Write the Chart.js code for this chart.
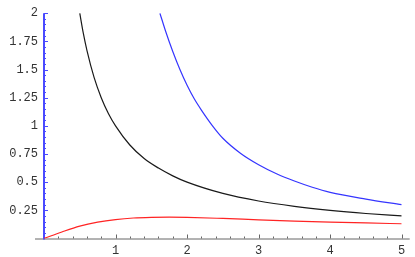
<!DOCTYPE html>
<html>
<head>
<meta charset="utf-8">
<script src="https://cdn.jsdelivr.net/npm/chart.js@4/dist/chart.umd.min.js"></script>
<style>
  html, body { margin: 0; padding: 0; background: #fff; }
  #wrap { width: 415px; height: 257px; }
</style>
</head>
<body>
<div id="wrap"><canvas id="plot" width="415" height="257"></canvas></div>
<script>
// values
var xBlack = [0.5, 0.55, 0.6, 0.7, 0.8, 0.9, 1, 1.2, 1.4, 1.6, 1.8, 2, 2.5, 3, 3.5, 4, 4.5, 5];
var yBlack = [2, 1.82, 1.67, 1.43, 1.25, 1.11, 1, 0.83, 0.71, 0.625, 0.556, 0.5, 0.4, 0.333, 0.286, 0.25, 0.222, 0.2];

var xBlue = [1.62, 1.7, 1.8, 1.9, 2, 2.1, 2.2, 2.35, 2.5, 2.75, 3, 3.25, 3.5, 3.75, 4, 4.5, 5];
var yBlue = [2, 1.84, 1.66, 1.5, 1.36, 1.24, 1.14, 1.005, 0.89, 0.755, 0.655, 0.575, 0.51, 0.455, 0.41, 0.35, 0.3];

var xRed = [0, 0.25, 0.5, 0.75, 1, 1.25, 1.5, 1.75, 2, 2.5, 3, 3.5, 4, 4.5, 5];
var yRed = [0, 0.058, 0.11, 0.145, 0.168, 0.182, 0.188, 0.19, 0.188, 0.178, 0.166, 0.155, 0.146, 0.138, 0.131];

var xTicks = [1, 2, 3, 4, 5];
var yTicks = [0.25, 0.5, 0.75, 1, 1.25, 1.5, 1.75, 2];

function pts(xs, ys) {
    return xs.map(function (x, i) { return { x: x, y: ys[i] }; });
}

function curve(xs, ys, color) {
    return {
        data: pts(xs, ys),
        borderColor: color,
        borderWidth: 1.2,
        pointRadius: 0,
        fill: false,
        cubicInterpolationMode: 'monotone'
    };
}

// Mathematica style axes crossing at the origin
var axesPlugin = {
    id: 'axes',
    beforeDatasetsDraw: function (chart) {
        var ctx = chart.ctx;
        var sx = chart.scales.x, sy = chart.scales.y;
        var x0 = sx.getPixelForValue(0), y0 = sy.getPixelForValue(0);
        ctx.save();

        // x axis
        ctx.strokeStyle = '#666';
        ctx.lineWidth = 1;
        ctx.beginPath();
        ctx.moveTo(x0 - 9, y0 + 0.5);
        ctx.lineTo(sx.getPixelForValue(5) + 8, y0 + 0.5);
        ctx.stroke();
        for (var i = 1; i <= 26; i++) {
            var v = i * 0.2;
            if (v > 5.01) break;
            var px = Math.round(sx.getPixelForValue(v)) + 0.5;
            var major = Math.abs(v - Math.round(v)) < 0.001;
            ctx.beginPath();
            ctx.moveTo(px, y0);
            ctx.lineTo(px, y0 - (major ? 4 : 2));
            ctx.stroke();
        }

        // y axis
        ctx.strokeStyle = '#4a4aff';
        ctx.lineWidth = 2;
        ctx.beginPath();
        ctx.moveTo(x0, y0 + 1);
        ctx.lineTo(x0, sy.getPixelForValue(2));
        ctx.stroke();
        ctx.lineWidth = 1;
        for (var j = 1; j <= 40; j++) {
            var w = j * 0.05;
            var py = Math.round(sy.getPixelForValue(w)) + 0.5;
            var maj = Math.abs(w / 0.25 - Math.round(w / 0.25)) < 0.001;
            ctx.beginPath();
            ctx.moveTo(x0, py);
            ctx.lineTo(x0 + (maj ? 4 : 2), py);
            ctx.stroke();
        }
        ctx.restore();
    }
};

new Chart(document.getElementById('plot'), {
    type: 'line',
    data: {
        datasets: [
            curve(xBlack, yBlack, '#1a1a1a'),
            curve(xBlue, yBlue, '#3535ff'),
            curve(xRed, yRed, '#ff2424')
        ]
    },
    options: {
        responsive: false,
        animation: false,
        layout: { padding: { top: 6.5, right: 13.3, left: 0, bottom: 0 } },
        plugins: { legend: { display: false }, tooltip: { enabled: false } },
        scales: {
            x: {
                type: 'linear',
                min: 0,
                max: 5,
                afterFit: function (scale) { scale.height = 18.5; },
                afterBuildTicks: function (scale) {
                    scale.ticks = xTicks.map(function (v) { return { value: v }; });
                },
                grid: { display: false, drawTicks: false },
                border: { display: false },
                ticks: {
                    padding: 5,
                    maxRotation: 0,
                    color: '#333',
                    font: { family: 'Liberation Mono', size: 12 },
                    callback: function (v) { return String(v); }
                }
            },
            y: {
                type: 'linear',
                min: 0,
                max: 2,
                afterFit: function (scale) { scale.width = 44; },
                afterBuildTicks: function (scale) {
                    scale.ticks = yTicks.map(function (v) { return { value: v }; });
                },
                grid: { display: false, drawTicks: false },
                border: { display: false },
                ticks: {
                    padding: 6,
                    color: '#333',
                    font: { family: 'Liberation Mono', size: 12 },
                    callback: function (v) { return String(v); }
                }
            }
        }
    },
    plugins: [axesPlugin]
});
</script>
</body>
</html>
